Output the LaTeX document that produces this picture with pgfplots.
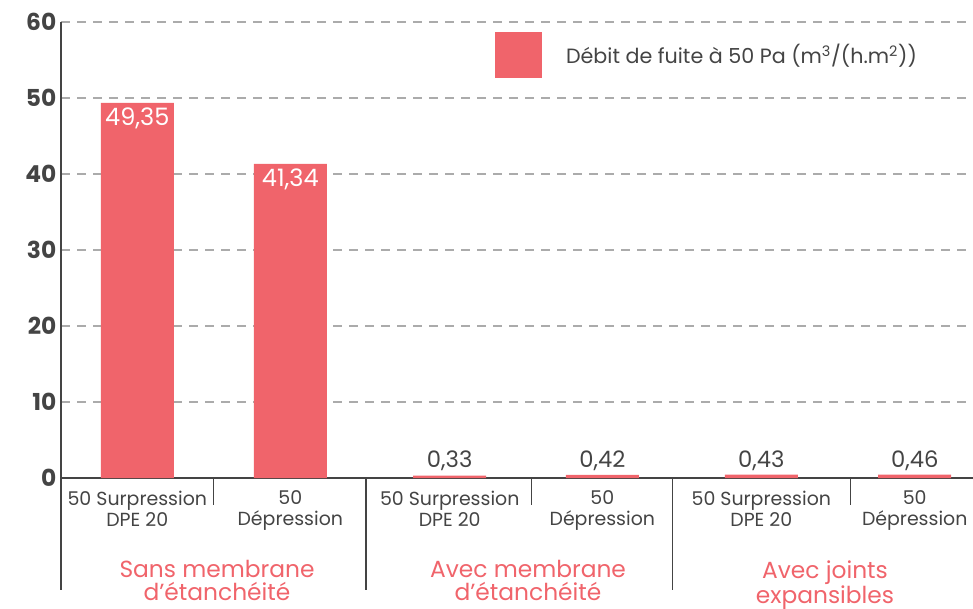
\documentclass[border=0pt]{standalone}
\usepackage{fontspec}
\setmainfont{Poppins}
\usepackage{pgfplots}
\pgfplotsset{compat=1.18}
\definecolor{barred}{HTML}{F0646B}
\definecolor{txt}{HTML}{444444}
\definecolor{gridc}{HTML}{ABABAB}
\begin{document}
\begin{tikzpicture}
\useasboundingbox (-45.75pt,-97.5pt) rectangle (684pt,358.5pt);
\begin{axis}[
  scale only axis, width=684pt, height=342pt, clip=false,
  xmin=61, xmax=973, ymin=0, ymax=60,
  axis x line*=bottom, axis y line*=left,
  axis line style={txt, line width=1pt},
  ytick={0,10,...,60},
  xtick={137.3,290.3,449.7,602.3,761.3,914.7},
  xticklabels={{50 Surpression\\DPE 20},{50\\Dépression},{50 Surpression\\DPE 20},{50\\Dépression},{50 Surpression\\DPE 20},{50\\Dépression}},
  major tick length=0pt,
  /pgf/number format/assume math mode=true,
  yticklabel style={font=\fontsize{17.5}{20}\selectfont\bfseries, text=txt},
  xticklabel style={font=\fontsize{14.2}{16}\selectfont, text=txt, align=center, yshift=-6pt},
  ymajorgrids, grid style={gridc, dash pattern=on 7pt off 5pt, line width=0.8pt},
  legend style={draw=none, at={(0.476,0.978)}, anchor=north west, font=\fontsize{15.5}{18}\selectfont, text=txt, inner sep=0pt, column sep=6pt},
  legend cell align=left,
]
\addplot[ybar, bar width=54.75pt, fill=barred, draw=none,
  legend image code/.code={\fill[barred] (0pt,-17pt) rectangle (35pt,17pt);}]
  coordinates {(137.3,49.35) (290.3,41.34) (449.7,0.33) (602.3,0.42) (761.3,0.43) (914.7,0.46)};
\addlegendentry{\hspace*{10pt}Débit de fuite à 50 Pa (m\textsuperscript{3}/(h.m\textsuperscript{2}))}
\addplot[forget plot, draw=none, point meta=explicit symbolic, nodes near coords,
  nodes near coords style={anchor=north, text=white, inner sep=3.5pt, font=\fontsize{18}{20}\selectfont}]
  coordinates {(137.3,49.35) [49,35] (290.3,41.34) [41,34]};
\addplot[forget plot, draw=none, point meta=explicit symbolic, nodes near coords,
  nodes near coords style={anchor=south, text=txt, inner sep=3pt, font=\fontsize{17}{18}\selectfont}]
  coordinates {(449.7,0.33) [0,33] (602.3,0.42) [0,42] (761.3,0.43) [0,43] (914.7,0.46) [0,46]};
\draw[txt, line width=1pt] (axis cs:61,0) -- ++(0pt,-84pt);
\draw[txt, line width=1pt] (axis cs:366,0) -- ++(0pt,-84pt);
\draw[txt, line width=1pt] (axis cs:672.7,0) -- ++(0pt,-84pt);
\draw[txt, line width=1pt] (axis cs:213.3,0) -- ++(0pt,-20pt);
\draw[txt, line width=1pt] (axis cs:531.7,0) -- ++(0pt,-20pt);
\draw[txt, line width=1pt] (axis cs:850.7,0) -- ++(0pt,-20pt);
\node[anchor=north, align=center, text=barred, inner sep=0pt, font=\fontsize{17.5}{17.5}\selectfont] at ([yshift=-61.5pt]axis cs:217,0) {Sans membrane\\d’étanchéité};
\node[anchor=north, align=center, text=barred, inner sep=0pt, font=\fontsize{17.5}{17.5}\selectfont] at ([yshift=-61.5pt]axis cs:528,0) {Avec membrane\\d’étanchéité};
\node[anchor=north, align=center, text=barred, inner sep=0pt, font=\fontsize{17.5}{17.5}\selectfont] at ([yshift=-61.5pt]axis cs:825,0) {Avec joints\\expansibles};
\end{axis}
\end{tikzpicture}
\end{document}
